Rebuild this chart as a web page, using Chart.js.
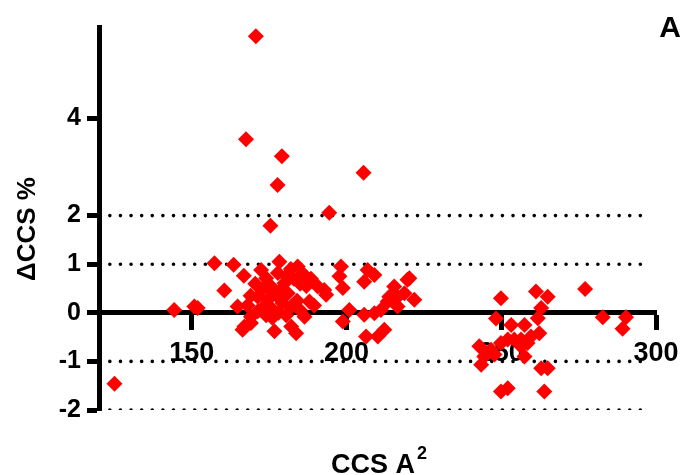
<!DOCTYPE html>
<html>
<head>
<title>CCS deviation</title>
<style> body { margin: 0; background: #fff; } #wrap { width: 684px; height: 475px; } </style>
<script src="https://cdn.jsdelivr.net/npm/chart.js@4.4.0/dist/chart.umd.min.js"></script>
</head>
<body>
<div id="wrap"><canvas id="ccsChart"></canvas></div>
<script>
// data
let ccs = [125, 170.7, 167.5, 179.1, 177.7, 205.5, 194.4, 175.4, 144.3, 150.8, 151.9, 157.3, 163.5, 166.8, 160.5, 164.8,
  166.4, 169.1, 171.3, 173.4, 172.4, 178.3, 184.2, 176.7, 182.1, 183.7, 186.4, 188, 190.7, 193.4, 198.2, 197.7,
  198.8, 198.8, 200.9, 205.7, 206.3, 210.1, 206.8, 209, 205.7, 212.2, 213.8, 192.8, 215.4, 219.7, 221.9, 213.3,
  216.5, 218.7, 211.1, 209, 220.3, 216.5,
  169.1, 167, 174, 175.6, 177.8, 179.9, 171.3, 174.5, 177.8, 181, 182.1, 172.4, 175.6, 179.3,
  180.5, 183, 185, 187, 176, 173, 178.5, 184, 186, 182, 188.5, 170.5, 169, 168, 176, 178, 185, 189.5, 174, 180.5,
  249.9, 248.3, 242.9, 243.5, 247.8, 249.9, 252.1, 254.2, 256.4, 253.2, 257.5, 259.6, 262.3, 257.5, 249.9, 252.1,
  261.2, 265, 262.9, 261.8, 262.9, 265, 263.9, 277.1, 282.8, 290.3, 289.2, 258.5, 256.4, 246.7, 244.5];
let deltaCcs = [-1.46, 5.69, 3.57, 3.22, 2.63, 2.88, 2.06, 1.79, 0.06, 0.13, 0.1, 1.02, 0.99, 0.76, 0.46, 0.13,
  -0.35, -0.21, 0.03, 0.13, 0.88, 1.05, 0.95, -0.38, -0.28, -0.42, -0.08, 0.23, 0.54, 0.37, 0.95, 0.75,
  0.51, -0.18, 0.06, -0.04, -0.49, -0.49, 0.88, 0.78, 0.64, -0.35, 0.33, 0.47, 0.54, 0.68, 0.27, 0.23,
  0.33, 0.4, 0.06, -0.01, 0.71, 0.13,
  -0.08, -0.28, 0.71, 0.54, 0.82, 0.61, 0.33, 0.27, 0.33, 0.4, 0.13, 0.06, 0.1, 0.2,
  0.75, 0.7, 0.6, 0.55, 0.45, 0.5, 0.45, 0.25, 0.8, 0.9, 0.7, 0.6, 0.35, 0.15, -0.1, 0, 0.05, 0.15, -0.05, -0.05,
  0.3, -0.12, -0.69, -1.07, -0.86, -0.62, -0.55, -0.55, -0.55, -0.25, -0.25, -0.49, -0.42, -0.9, -1.62, -1.55,
  0.44, 0.33, 0.1, -0.11, -1.14, -1.14, -1.62, 0.49, -0.09, -0.09, -0.33, -0.62, -0.69, -0.76, -0.9];

let xTicks = [150, 200, 250, 300];
let yTicks = [-2, -1, 0, 1, 2, 4];
let refLevels = [-2, -1, 1, 2];   // dotted lines
let refSpan = [123.5, 298];       // x extent of the dotted lines

let fontFam = "'Liberation Sans', Arial, sans-serif";

let points = ccs.map(function (c, i) { return { x: c, y: deltaCcs[i] }; });

let datasets = [{
  type: 'scatter',
  label: 'dCCS',
  data: points,
  pointStyle: 'rectRot',
  pointRadius: 8,
  pointHoverRadius: 8,
  backgroundColor: '#ff0000',
  borderColor: '#ff0000',
  borderWidth: 0,
  order: 0
}];
refLevels.forEach(function (lv) {
  datasets.push({
    type: 'line',
    data: [{ x: refSpan[0], y: lv }, { x: refSpan[1], y: lv }],
    borderColor: '#000',
    borderWidth: 3.6,
    borderDash: [0.01, 10.6],
    borderCapStyle: 'round',
    pointRadius: 0,
    fill: false,
    order: 1
  });
});

// axis titles and panel letter
let textPlugin = {
  id: 'texts',
  afterDraw: function (chart) {
    let ctx = chart.ctx;
    ctx.save();
    ctx.fillStyle = '#000';
    // y title
    ctx.font = 'bold 26px ' + fontFam;
    ctx.translate(28, 229);
    ctx.rotate(-Math.PI / 2);
    ctx.textAlign = 'center';
    ctx.textBaseline = 'middle';
    ctx.fillText('\u0394CCS %', 0, 0);
    ctx.restore();

    ctx.save();
    ctx.fillStyle = '#000';
    ctx.textBaseline = 'alphabetic';
    ctx.textAlign = 'left';
    ctx.font = 'bold 27px ' + fontFam;
    let main = 'CCS A';
    let w1 = ctx.measureText(main).width;
    ctx.font = 'bold 18px ' + fontFam;
    let w2 = ctx.measureText('2').width;
    let x0 = 379 - (w1 + 2 + w2) / 2;
    ctx.font = 'bold 27px ' + fontFam;
    ctx.fillText(main, x0, 473);
    ctx.font = 'bold 18px ' + fontFam;
    ctx.fillText('2', x0 + w1 + 2, 459);

    ctx.font = 'bold 30px ' + fontFam;
    ctx.textAlign = 'right';
    ctx.fillText('A', 681, 37);
    ctx.restore();
  }
};

let chart = new Chart(document.getElementById('ccsChart'), {
  type: 'scatter',
  data: { datasets: datasets },
  plugins: [textPlugin],
  options: {
    responsive: true,
    maintainAspectRatio: false,
    animation: false,
    events: [],
    layout: { padding: { left: 0, right: 28, top: 27, bottom: 65 } },
    plugins: { legend: { display: false }, tooltip: { enabled: false } },
    scales: {
      x: {
        type: 'linear',
        min: 120, max: 300,
        position: { y: 0 },
        afterBuildTicks: function (s) { s.ticks = xTicks.map(function (v) { return { value: v }; }); },
        afterFit: function (s) { s.paddingLeft = 0; s.paddingRight = 0; },
        grid: { drawOnChartArea: false, drawTicks: true, tickLength: 15, tickWidth: 5, tickColor: '#000' },
        border: { display: true, color: '#000', width: 5 },
        ticks: { color: '#000', padding: 10, maxRotation: 0, font: { family: fontFam, size: 27, weight: 'bold' } }
      },
      y: {
        type: 'linear',
        min: -2, max: 5.88,
        position: 'left',
        afterBuildTicks: function (s) { s.ticks = yTicks.map(function (v) { return { value: v }; }); },
        afterFit: function (s) { s.width = 99; s.paddingTop = 0; s.paddingBottom = 0; },
        grid: { drawOnChartArea: false, drawTicks: true, tickLength: 12, tickWidth: 5, tickColor: '#000' },
        border: { display: true, color: '#000', width: 5 },
        ticks: { color: '#000', padding: 6, font: { family: fontFam, size: 25, weight: 'bold' } }
      }
    }
  }
});
</script>
</body>
</html>
